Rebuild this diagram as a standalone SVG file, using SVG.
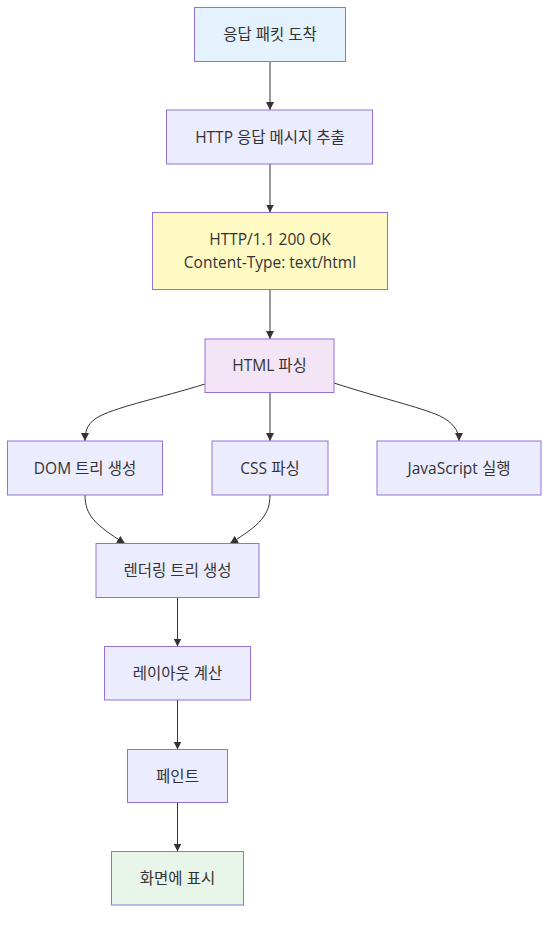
<svg xmlns="http://www.w3.org/2000/svg" width="557" height="926" viewBox="0 0 557 926">
<defs>
<marker id="arrow" viewBox="0 0 10 10" refX="10" refY="5" markerWidth="8" markerHeight="8" markerUnits="userSpaceOnUse" orient="auto">
<path d="M0,0 L10,5 L0,10 z" fill="#333"/>
</marker>
<style>
.node rect{stroke:#9370DB;stroke-width:1;fill:#ECECFF}
.node text{font-family:"Open Sans","Noto Sans CJK KR",sans-serif;font-size:15.5px;fill:#333;text-anchor:middle}
.edges path{fill:none;stroke:#333;stroke-width:1;marker-end:url(#arrow)}
</style>
</defs>
<rect width="557" height="926" fill="#fff"/>
<g class="edges">
<path d="M270,61.5 L270,110"/>
<path d="M270,164 L270,212.5"/>
<path d="M270,289.5 L270,339"/>
<path d="M205,384 C160,398 120,406 100,416 C88,422 85,430 85,441"/>
<path d="M270,392.5 L270,441"/>
<path d="M334,383 C380,398 420,407 440,416 C452,422 459,430 459,441"/>
<path d="M85,495 C85,515 95,525 125,543.5"/>
<path d="M270,495 C270,515 260,525 230,543.5"/>
<path d="M177.5,597.5 L177.5,646.5"/>
<path d="M177.5,700 L177.5,749.5"/>
<path d="M177.5,802.5 L177.5,851.5"/>
</g>
<g id="n1" class="node"><rect x="194.5" y="7.5" width="151" height="54" style="fill:#E3F2FD"/><text x="270" y="40">응답 패킷 도착</text></g>
<g id="n2" class="node"><rect x="166.5" y="110" width="206" height="54"/><text x="270" y="142.5">HTTP 응답 메시지 추출</text></g>
<g id="n3" class="node"><rect x="152.5" y="212.5" width="235" height="77" style="fill:#FFF9C4"/><text x="270" y="244.5">HTTP/1.1 200 OK</text><text x="270" y="267.5">Content-Type: text/html</text></g>
<g id="n4" class="node"><rect x="205" y="339" width="129" height="53.5" style="fill:#F3E5F5"/><text x="269.5" y="371">HTML 파싱</text></g>
<g id="n5" class="node"><rect x="7.5" y="441" width="155" height="54"/><text x="85" y="473.5">DOM 트리 생성</text></g>
<g id="n6" class="node"><rect x="212" y="441" width="116" height="54"/><text x="270" y="473.5">CSS 파싱</text></g>
<g id="n7" class="node"><rect x="377" y="441" width="164" height="54"/><text x="459" y="473.5">JavaScript 실행</text></g>
<g id="n8" class="node"><rect x="96" y="543.5" width="163" height="54"/><text x="177.5" y="576">렌더링 트리 생성</text></g>
<g id="n9" class="node"><rect x="104.5" y="646.5" width="146" height="53.5"/><text x="177.5" y="678.5">레이아웃 계산</text></g>
<g id="n10" class="node"><rect x="127.5" y="749.5" width="100" height="53"/><text x="177.5" y="781.5">페인트</text></g>
<g id="n11" class="node"><rect x="111.5" y="851.5" width="132" height="53.5" style="fill:#E8F5E9"/><text x="177.5" y="883.5">화면에 표시</text></g>
</svg>
